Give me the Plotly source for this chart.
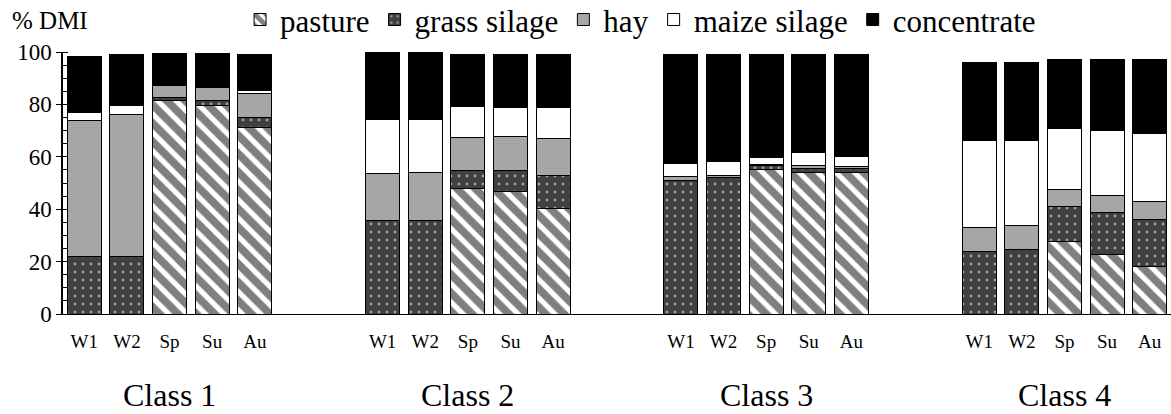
import plotly.graph_objects as go

classes = ["Class 1", "Class 2", "Class 3", "Class 4"]
seasons = ["W1", "W2", "Sp", "Su", "Au"]
feeds = ["pasture", "grass silage", "hay", "maize silage", "concentrate"]

# % DMI per feed, per class, per season (W1, W2, Sp, Su, Au)
pasture = [
    [0, 0, 81.3, 79.5, 71.3],
    [0, 0, 47.8, 46.7, 40.1],
    [0, 0, 55.2, 54.1, 54.1],
    [0, 0, 27.6, 22.9, 18.1],
]
grass_silage = [
    [22.1, 22.0, 1.5, 2.0, 3.6],
    [35.5, 35.8, 7.0, 7.9, 12.6],
    [51.0, 52.2, 1.5, 1.5, 1.5],
    [24.0, 24.7, 13.4, 15.9, 18.0],
]
hay = [
    [51.8, 54.0, 4.3, 4.8, 9.3],
    [18.3, 18.3, 12.6, 13.2, 14.2],
    [1.3, 0.8, 0.5, 0.9, 0.8],
    [9.2, 8.9, 6.7, 6.6, 6.8],
]
maize_silage = [
    [3.1, 3.4, 0, 0, 1.0],
    [20.6, 20.3, 11.7, 11.1, 11.9],
    [5.0, 5.1, 2.6, 5.1, 3.9],
    [33.2, 32.6, 23.2, 24.8, 26.1],
]
concentrate = [
    [21.2, 19.5, 12.4, 13.2, 14.0],
    [25.3, 25.3, 20.1, 20.3, 20.2],
    [41.9, 41.1, 39.4, 37.4, 38.7],
    [29.7, 29.9, 26.3, 27.0, 28.2],
]

series = [pasture, grass_silage, hay, maize_silage, concentrate]
GROUP_STEP = len(seasons) + 2
xpos = [g * GROUP_STEP + i for g in range(len(classes)) for i in range(len(seasons))]

styles = [
    dict(color="white", pattern=dict(shape="\\", fgcolor="black", bgcolor="white", size=13, solidity=0.6)),
    dict(color="#404040", pattern=dict(shape=".", fgcolor="white", bgcolor="#404040", size=8, solidity=0.1)),
    dict(color="#a6a6a6"),
    dict(color="white"),
    dict(color="black"),
]

fig = go.Figure()
for name, data, st in zip(feeds, series, styles):
    vals = [v for grp in data for v in grp]
    fig.add_trace(go.Bar(
        x=xpos, y=vals, name=name,
        marker=dict(line=dict(color="black", width=1), **st),
    ))

FONT = "Liberation Serif, Times New Roman, serif"
fig.update_layout(
    barmode="stack",
    bargap=0.2,
    width=1171, height=414,
    margin=dict(l=63, r=0, t=52, b=100, autoexpand=False),
    plot_bgcolor="white", paper_bgcolor="white",
    font=dict(family=FONT, color="black"),
    showlegend=True,
    legend=dict(orientation="h", xref="container", yref="container",
                x=0.205, y=0.952, xanchor="left", yanchor="middle",
                traceorder="normal",
                font=dict(family=FONT, size=31), itemwidth=30, tracegroupgap=0,
                bgcolor="rgba(0,0,0,0)"),
)
fig.update_xaxes(
    range=[-0.5, (len(classes) - 1) * GROUP_STEP + len(seasons) - 0.5],
    tickvals=xpos,
    ticktext=seasons * len(classes),
    ticks="", showline=True, linecolor="black", linewidth=1,
    showgrid=False, zeroline=False,
    tickfont=dict(family=FONT, size=19),
    ticklabelstandoff=10,
)
fig.update_yaxes(
    range=[0, 100], dtick=20, ticks="outside", ticklen=5, tickcolor="black",
    showline=True, linecolor="black", linewidth=1.5,
    showgrid=False, zeroline=False,
    tickfont=dict(family=FONT, size=23),
    minor=dict(dtick=5, ticks="inside", ticklen=5, tickcolor="black"),
)
fig.add_annotation(text="% DMI", xref="paper", yref="paper", x=-0.048, y=1.0,
                   xanchor="left", yanchor="middle", showarrow=False, yshift=32,
                   font=dict(family=FONT, size=25))
for g, cname in enumerate(classes):
    fig.add_annotation(text=cname, x=g * GROUP_STEP + (len(seasons) - 1) / 2, xref="x",
                       y=0, yref="paper", yanchor="middle", yshift=-81,
                       showarrow=False, font=dict(family=FONT, size=32))

fig.write_html("out.html", config={"displayModeBar": False},
               post_script="document.body.style.margin='0px';")
